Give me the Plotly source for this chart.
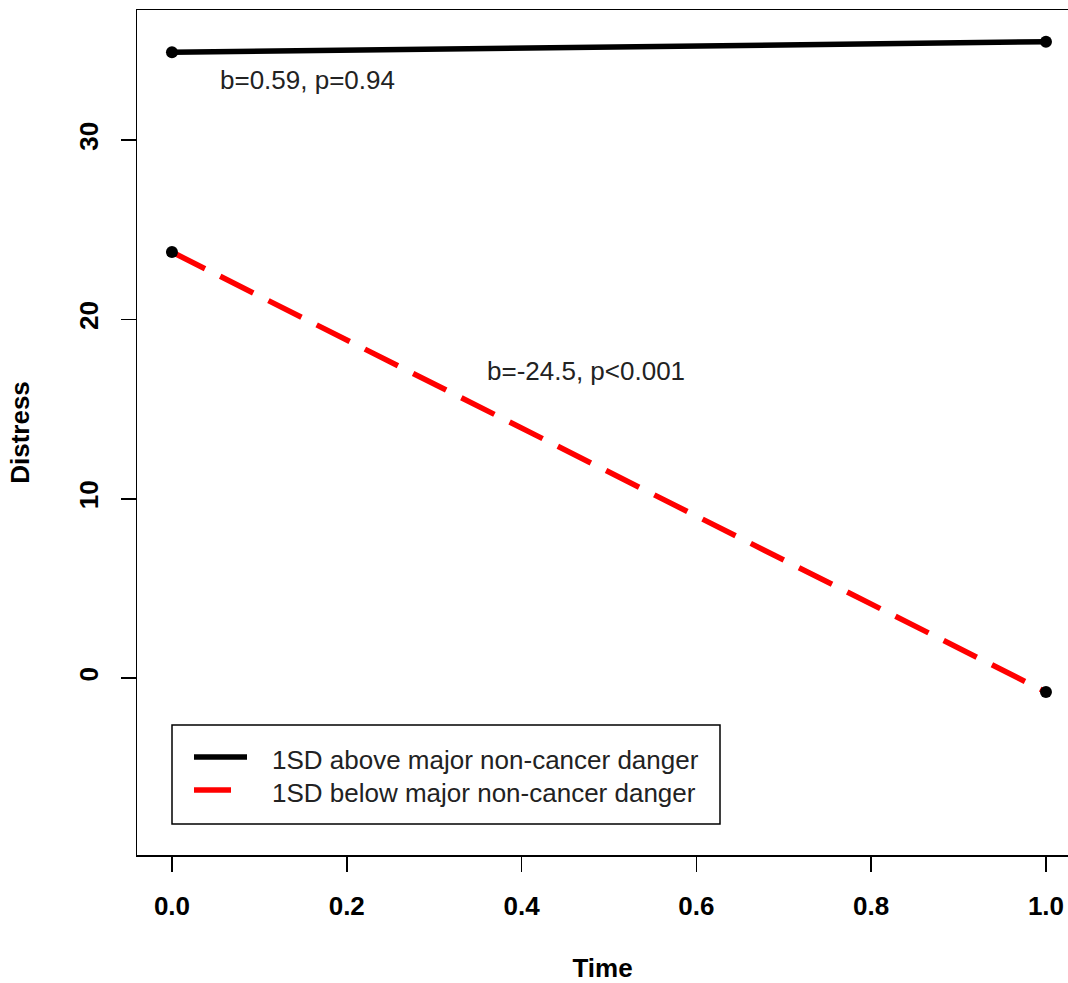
import plotly.graph_objects as go

time = [0.0, 1.0]
above_vals = [34.9, 35.49]
below_vals = [23.76, -0.78]
series_names = ["1SD above major non-cancer danger", "1SD below major non-cancer danger"]
ann_texts = ["b=0.59, p=0.94", "b=-24.5, p<0.001"]
ann_x = [0.155, 0.474]
ann_y = [33.35, 17.12]
x_ticks = [0.0, 0.2, 0.4, 0.6, 0.8, 1.0]
x_ticklabels = ["0.0", "0.2", "0.4", "0.6", "0.8", "1.0"]
y_ticks = [0, 10, 20, 30]

FONT = "Liberation Sans, Arial, sans-serif"
TXT = "#222222"
SIZE = 26

W, H = 1068, 983
L, T, B = 137, 10, 128
PLOT_LEFT, PLOT_RIGHT, PLOT_TOP, PLOT_BOTTOM = 137, 1068, 10, 855


def px_x(p):
    return (p - PLOT_LEFT) / (PLOT_RIGHT - PLOT_LEFT)


def px_y(p):
    return (PLOT_BOTTOM - p) / (PLOT_BOTTOM - PLOT_TOP)


fig = go.Figure()
fig.add_trace(go.Scatter(x=time, y=above_vals, mode="lines", name=series_names[0],
                         showlegend=False, line=dict(color="black", width=5.5)))
fig.add_trace(go.Scatter(x=time, y=below_vals, mode="lines", name=series_names[1],
                         showlegend=False,
                         line=dict(color="red", width=5.5, dash="37px,17px")))
fig.add_trace(go.Scatter(x=time + time, y=above_vals + below_vals, mode="markers",
                         showlegend=False, marker=dict(color="black", size=12)))

for t, x, y in zip(ann_texts, ann_x, ann_y):
    fig.add_annotation(x=x, y=y, text=t, showarrow=False,
                       font=dict(family=FONT, size=SIZE, color=TXT))

# legend box drawn manually (R-style legend)
fig.add_shape(type="rect", xref="paper", yref="paper",
              x0=px_x(172), x1=px_x(720), y0=px_y(824), y1=px_y(725),
              line=dict(color="black", width=1.5), fillcolor="white", layer="above")
legend_colors = ["black", "red"]
legend_dash = ["solid", "37px,17px"]
legend_rows = [757, 790]
for name, col, dash, row in zip(series_names, legend_colors, legend_dash, legend_rows):
    fig.add_shape(type="line", xref="paper", yref="paper",
                  x0=px_x(194), x1=px_x(247), y0=px_y(row), y1=px_y(row),
                  line=dict(color=col, width=5.5, dash=dash), layer="above")
    fig.add_annotation(xref="paper", yref="paper", x=px_x(270), y=px_y(row + 3),
                       xanchor="left", yanchor="middle", text=name, showarrow=False,
                       font=dict(family=FONT, size=SIZE, color=TXT))

fig.update_layout(
    width=W, height=H,
    margin=dict(l=L, r=0, t=T, b=B, pad=0),
    paper_bgcolor="white", plot_bgcolor="white",
    font=dict(family=FONT, color="black"),
    showlegend=False,
    xaxis=dict(range=[-0.04, 1.0252], tickvals=x_ticks, ticktext=x_ticklabels,
               showgrid=False, zeroline=False, showline=True, linecolor="black",
               linewidth=1.5, mirror=True, ticks="outside", ticklen=15, tickwidth=1.5,
               tickcolor="black", ticklabelstandoff=12,
               tickfont=dict(family=FONT, size=SIZE, weight="bold", color="black"),
               title=dict(text="Time", font=dict(family=FONT, size=SIZE, weight="bold"),
                          standoff=43)),
    yaxis=dict(range=[-9.87, 37.26], tickvals=y_ticks,
               showgrid=False, zeroline=False, showline=True, linecolor="black",
               linewidth=1.5, mirror=False, ticks="outside", ticklen=15, tickwidth=1.5,
               tickcolor="black", tickangle=-90, ticklabelstandoff=12,
               tickfont=dict(family=FONT, size=SIZE, weight="bold", color="black"),
               title=dict(text="Distress", font=dict(family=FONT, size=SIZE, weight="bold"),
                          standoff=37)),
)

fig.write_html(
    "out.html",
    config={"displayModeBar": False, "staticPlot": True},
    post_script="document.body.style.margin='0';document.body.style.overflow='hidden';",
)
